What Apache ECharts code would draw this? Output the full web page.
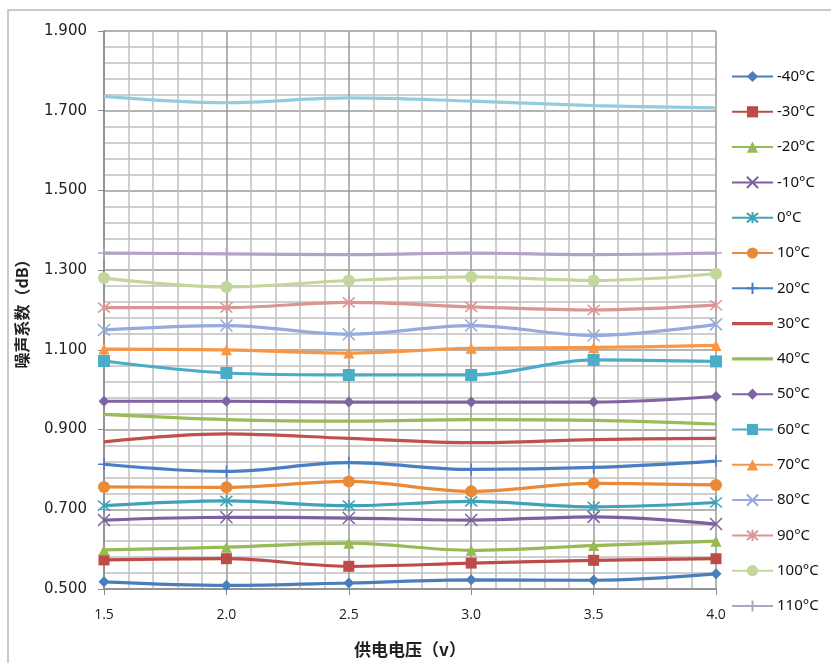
<!DOCTYPE html>
<html>
<head>
<meta charset="utf-8">
<script src="https://cdn.jsdelivr.net/npm/echarts@6/dist/echarts.min.js"></script>
<style>
html,body{margin:0;padding:0;background:#fff;}
#chart{width:831px;height:663px;}
</style>
</head>
<body>
<div id="chart"></div>
<script>
const voltages = [1.5, 2.0, 2.5, 3.0, 3.5, 4.0];
const seriesNames = ['-40°C','-30°C','-20°C','-10°C','0°C','10°C','20°C','30°C','40°C','50°C','60°C','70°C','80°C','90°C','100°C','110°C'];
const extraName = '120°C';
const m40 = [0.518, 0.509, 0.515, 0.523, 0.522, 0.538];
const m30 = [0.573, 0.576, 0.557, 0.565, 0.572, 0.576];
const m20 = [0.598, 0.605, 0.615, 0.597, 0.609, 0.620];
const m10 = [0.673, 0.680, 0.678, 0.673, 0.681, 0.663];
const t0 = [0.709, 0.721, 0.709, 0.720, 0.706, 0.717];
const t10 = [0.756, 0.755, 0.770, 0.745, 0.765, 0.761];
const t20 = [0.813, 0.795, 0.817, 0.800, 0.805, 0.821];
const t30 = [0.869, 0.889, 0.878, 0.867, 0.875, 0.878];
const t40 = [0.938, 0.925, 0.921, 0.925, 0.923, 0.914];
const t50 = [0.971, 0.971, 0.969, 0.969, 0.969, 0.983];
const t60 = [1.072, 1.042, 1.037, 1.037, 1.075, 1.071];
const t70 = [1.102, 1.100, 1.092, 1.104, 1.106, 1.111];
const t80 = [1.150, 1.161, 1.139, 1.161, 1.136, 1.164];
const t90 = [1.206, 1.206, 1.219, 1.208, 1.200, 1.212];
const t100 = [1.280, 1.258, 1.274, 1.283, 1.274, 1.291];
const t110 = [1.343, 1.341, 1.339, 1.343, 1.339, 1.343];
const t120 = [1.736, 1.720, 1.732, 1.724, 1.713, 1.707];

const values = [m40, m30, m20, m10, t0, t10, t20, t30, t40, t50, t60, t70, t80, t90, t100, t110];
const colors = ['#4A7EBB','#BE4B48','#98B954','#7D60A0','#3FA2B8','#E88A36','#4A7EC4','#C0504D','#9BBB59','#8064A2','#4BACC6','#F79646','#95ABDB','#D99694','#C3D69B','#B3A2C7'];
const extraColor = '#93CDDD';

const X = 'path://M0,0L10,10M10,0L0,10';
const AST = 'path://M0,0L10,10M10,0L0,10M5,-1L5,11';
const PLUS = 'path://M5,0L5,10M0,5L10,5';
const LINE_ICON = 'path://M0,0L0.001,0L0,0.001Z M0,5.4L41,5.4L41,8.6L0,8.6Z M41,14L40.999,14L41,13.999Z';
const symbols = ['diamond','rect','triangle',X,AST,'circle',PLUS,'none','none','diamond','rect','triangle',X,AST,'circle',PLUS];
const sizes = [11,11,11,12,12,12,12,0,0,11,12,11,12,12,12,12];

const series = values.map((v, i) => {
  const sym = symbols[i];
  const stroked = (sym === X || sym === AST || sym === PLUS);
  return {
    name: seriesNames[i],
    type: 'line',
    smooth: 0.35,
    data: voltages.map((x, k) => [x, v[k]]),
    symbol: sym,
    symbolSize: sizes[i],
    showSymbol: sym !== 'none',
    lineStyle: {color: colors[i], width: 3.2},
    itemStyle: stroked ? {color: colors[i], borderColor: colors[i], borderWidth: 1.5} : {color: colors[i], borderWidth: 0},
    emphasis: {disabled: true},
    z: 3
  };
});
series.push({
  name: extraName,
  type: 'line',
  smooth: 0.35,
  data: voltages.map((x, k) => [x, t120[k]]),
  symbol: 'none',
  showSymbol: false,
  lineStyle: {color: extraColor, width: 3.2},
  itemStyle: {color: extraColor},
  emphasis: {disabled: true},
  z: 3
});

const legendData = seriesNames.map((n, i) => symbols[i] === 'none' ? {name: n, icon: LINE_ICON} : {name: n});

const chart = echarts.init(document.getElementById('chart'), null, {renderer: 'canvas'});
chart.setOption({
  animation: false,
  backgroundColor: '#fff',
  graphic: [{
    type: 'rect',
    shape: {x: 8, y: 10, width: 900, height: 700},
    style: {fill: 'none', stroke: '#b9b9b9', lineWidth: 1.5},
    silent: true, z: -1
  }],
  grid: {left: 104, right: 115, top: 31, bottom: 71, containLabel: false},
  legend: {
    data: legendData,
    orient: 'vertical',
    left: 731,
    top: 69,
    padding: 0,
    itemWidth: 41,
    itemHeight: 14,
    itemGap: 20.3,
    textStyle: {fontFamily: 'Noto Sans', fontSize: 15, color: '#111', padding: [0,0,0,-1]},
    selectedMode: false
  },
  xAxis: {
    type: 'value',
    min: 1.5, max: 4.0, interval: 0.5,
    name: '供电电压（v）',
    nameLocation: 'middle',
    nameGap: 52,
    nameTextStyle: {fontFamily: 'Noto Sans CJK SC', fontSize: 17, fontWeight: 'bold', color: '#222'},
    axisLine: {show: true, lineStyle: {color: '#8a8a8a', width: 1.5}},
    axisTick: {show: true, length: 6, lineStyle: {color: '#8a8a8a'}},
    axisLabel: {margin: 19, fontFamily: 'Open Sans', fontSize: 14, color: '#222', formatter: v => v.toFixed(1)},
    splitLine: {show: true, lineStyle: {color: '#9a9a9a', width: 1.5}},
    minorTick: {show: false, splitNumber: 5},
    minorSplitLine: {show: true, lineStyle: {color: '#c0c0c0', width: 1.5}}
  },
  yAxis: {
    type: 'value',
    min: 0.5, max: 1.9, interval: 0.2,
    name: '噪声系数（dB）',
    nameLocation: 'middle',
    nameGap: 74,
    nameTextStyle: {fontFamily: 'Noto Sans CJK SC', fontSize: 16, fontWeight: 'bold', color: '#222'},
    axisLine: {show: true, lineStyle: {color: '#8a8a8a', width: 1.5}},
    axisTick: {show: true, length: 6, lineStyle: {color: '#8a8a8a'}},
    axisLabel: {margin: 17, fontFamily: 'DejaVu Sans', fontSize: 15, color: '#222', formatter: v => v.toFixed(3)},
    splitLine: {show: true, lineStyle: {color: '#9a9a9a', width: 1.5}},
    minorTick: {show: false, splitNumber: 5},
    minorSplitLine: {show: true, lineStyle: {color: '#c0c0c0', width: 1.5}}
  },
  series: series
});
</script>
</body>
</html>
